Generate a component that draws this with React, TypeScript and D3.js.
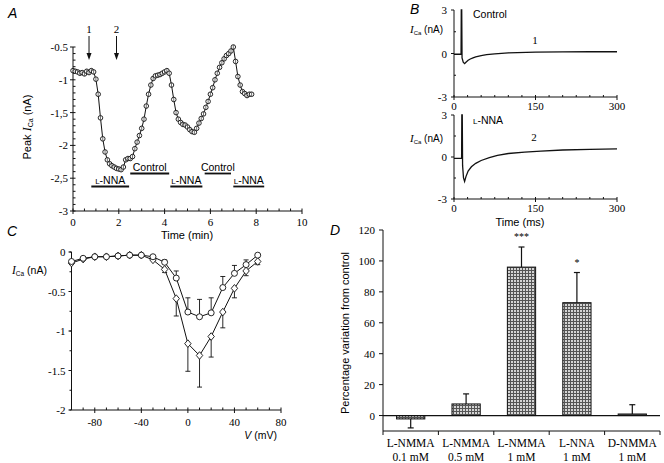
import React from "react";
import * as d3 from "d3";

// ---------- Panel A data ----------
const aTime = [0,0.1,0.2,0.3,0.4,0.5,0.6,0.7,0.8,0.9,1.0,1.1,1.2,1.3,1.4,1.5,1.6,1.7,1.8,1.9,2.0,2.1,2.2,2.3,2.4,2.5,2.6,2.7,2.8,2.9,3.0,3.1,3.2,3.3,3.4,3.5,3.6,3.7,3.8,3.9,4.0,4.1,4.2,4.3,4.4,4.5,4.6,4.7,4.8,4.9,5.0,5.1,5.2,5.3,5.4,5.5,5.6,5.7,5.8,5.9,6.0,6.1,6.2,6.3,6.4,6.5,6.6,6.7,6.8,6.9,7.0,7.1,7.2,7.3,7.4,7.5,7.6,7.7,7.8];
const aPeak = [-0.86,-0.87,-0.88,-0.9,-0.89,-0.91,-0.87,-0.89,-0.86,-0.88,-0.99,-1.22,-1.58,-1.9,-2.1,-2.22,-2.28,-2.31,-2.33,-2.35,-2.36,-2.37,-2.33,-2.22,-2.2,-2.2,-2.17,-2.05,-1.95,-1.85,-1.74,-1.6,-1.4,-1.22,-1.08,-0.98,-0.94,-0.93,-0.92,-0.9,-0.88,-0.86,-0.9,-1.08,-1.3,-1.5,-1.6,-1.65,-1.68,-1.69,-1.72,-1.76,-1.79,-1.8,-1.74,-1.66,-1.59,-1.52,-1.42,-1.33,-1.22,-1.12,-1.0,-0.9,-0.81,-0.74,-0.68,-0.63,-0.6,-0.56,-0.5,-0.72,-0.95,-1.08,-1.18,-1.21,-1.24,-1.22,-1.22];
const aYTicks = [-3,-2.5,-2,-1.5,-1,-0.5];
const aYTickLabels = ["-3","-2,5","-2","-1,5","-1","-0.5"];
const aXTicks = [0,2,4,6,8,10];
const aArrowTimes = [0.7,1.9];
const aArrowLabels = ["1","2"];
const aCondLabels = ["L-NNA","Control","L-NNA","Control","L-NNA"];
const aCondStart = [0.8,2.5,4.25,5.75,7.0];
const aCondEnd = [2.45,4.2,5.65,6.9,8.35];
const aCondLevel = [0,1,0,1,0];

// ---------- Panel B data ----------
const bCtrlT = [0,13,13.4,14.2,14.8,17,19.5,22,26,30,35,40,50,60,75,100,150,200,250,300];
const bCtrlI = [-0.05,-0.05,3,3,-0.3,-0.6,-0.7,-0.6,-0.47,-0.38,-0.3,-0.23,-0.15,-0.08,-0.02,0.05,0.1,0.11,0.12,0.12];
const bNnaT = [0,14,14.4,15.2,15.8,17.5,19.5,22,26,32,40,50,65,80,100,130,160,200,250,300];
const bNnaI = [-0.1,-0.1,3,3,-0.6,-1.5,-1.75,-1.4,-1.0,-0.7,-0.45,-0.25,-0.05,0.12,0.25,0.35,0.42,0.5,0.55,0.58];
const bYTicks = [-3,0,3];
const bXTicks = [0,150,300];

// ---------- Panel C data ----------
const cV = [-100,-90,-80,-70,-60,-50,-40,-30,-20,-10,0,10,20,30,40,50,60];
const cCircle = [-0.12,-0.08,-0.06,-0.06,-0.05,-0.04,-0.04,-0.06,-0.13,-0.33,-0.76,-0.82,-0.77,-0.45,-0.27,-0.16,-0.04];
const cCircleErrEnd = [null,null,null,null,null,null,null,null,-0.1,-0.24,-0.58,-0.6,-0.58,-0.31,-0.17,-0.1,null];
const cDiamond = [-0.14,-0.09,-0.06,-0.06,-0.05,-0.04,-0.04,-0.1,-0.22,-0.59,-1.16,-1.31,-1.07,-0.76,-0.46,-0.24,-0.12];
const cDiamondErrEnd = [null,null,null,null,null,null,null,null,-0.26,-0.81,-1.51,-1.71,-1.33,-0.96,-0.58,-0.3,-0.16];
const cYTicks = [-2,-1.5,-1,-0.5,0];
const cXTicks = [-80,-40,0,40,80];

// ---------- Panel D data ----------
const dCatLine1 = ["L-NMMA","L-NMMA","L-NMMA","L-NNA","D-NMMA"];
const dCatLine2 = ["0.1 mM","0.5 mM","1 mM","1 mM","1 mM"];
const dValues = [-2.2,7.5,96,73,1];
const dErrEnd = [-8,14,109,92.5,7];
const dStars = ["","","***","*",""];
const dYTicks = [0,20,40,60,80,100,120];

const SANS = "'Liberation Sans', Arial, Helvetica, sans-serif";
const SERIF = "'Liberation Serif', 'Times New Roman', serif";

export default function App() {
  // Panel A scales
  const xA = d3.scaleLinear().domain([0, 10]).range([73, 302]);
  const yA = d3.scaleLinear().domain([-3, -0.5]).range([211, 47]);
  const lineA = d3.line<number>().x((_, i) => xA(aTime[i])).y((d) => yA(d));
  const aMinorY = d3.range(-3, -0.45, 0.1);
  const aMinorX = d3.range(0, 10.01, 0.5);

  // Panel B scales
  const xB = d3.scaleLinear().domain([0, 300]).range([454, 617]);
  const yB1 = d3.scaleLinear().domain([-3, 3]).range([97, 10]);
  const yB2 = d3.scaleLinear().domain([-3, 3]).range([199, 115]);
  const lineB = (ts: number[], ys: number[], y: d3.ScaleLinear<number, number>) =>
    d3.line<number>().x((_, i) => xB(ts[i])).y((d) => y(Math.min(3, d)))(ys) || "";
  const bMinorX = d3.range(0, 301, 25);

  // Panel C scales
  const xC = d3.scaleLinear().domain([-100, 80]).range([71.5, 281]);
  const yC = d3.scaleLinear().domain([-2, 0]).range([410, 252]);
  const lineC = (ys: number[]) => d3.line<number>().x((_, i) => xC(cV[i])).y((d) => yC(d))(ys) || "";
  const cMinorX = d3.range(-100, 81, 10);
  const cMinorY = d3.range(-2, 0.01, 0.25);

  // Panel D scales
  const xD = d3.scaleBand<number>().domain(d3.range(5)).range([383, 660]).paddingInner(0.49).paddingOuter(0.245);
  const yD = d3.scaleLinear().domain([-10, 120]).range([431, 230]);
  const step = xD.step();

  const axisStyle = { stroke: "#111", strokeWidth: 1, fill: "none" } as const;

  const ICa = (fs: number) => (
    <>
      <tspan fontStyle="italic" fontFamily={SERIF} fontSize={fs + 1}>I</tspan>
      <tspan fontSize={fs - 4} dy={2}>Ca</tspan>
      <tspan dy={-2}> (nA)</tspan>
    </>
  );

  return (
    <div style={{ position: "absolute", left: 0, top: 0 }}>
      <svg width={664} height={463} style={{ display: "block", background: "#fff" }}>
        <defs>
          <pattern id="hatch" width={3} height={3} patternUnits="userSpaceOnUse">
            <rect width={3} height={3} fill="#d4d4d4" />
            <rect width={3} height={1} fill="#555" />
            <rect width={1} height={3} fill="#555" />
          </pattern>
        </defs>

        {/* ================= Panel A ================= */}
        <text x={8} y={18} fontFamily={SANS} fontStyle="italic" fontSize={14}>A</text>
        <line x1={xA(0)} x2={xA(0)} y1={yA(-0.5)} y2={yA(-3)} {...axisStyle} />
        <line x1={xA(0)} x2={xA(10)} y1={yA(-3)} y2={yA(-3)} {...axisStyle} />
        {aMinorY.map((v, i) => (
          <line key={"amy" + i} x1={xA(0)} x2={xA(0) + 2.5} y1={yA(v)} y2={yA(v)} {...axisStyle} />
        ))}
        {aYTicks.map((v, i) => (
          <g key={"ayt" + i}>
            <line x1={xA(0) - 3} x2={xA(0)} y1={yA(v)} y2={yA(v)} {...axisStyle} />
            <text x={xA(0) - 5} y={yA(v) + 4} textAnchor="end" fontFamily={SERIF} fontSize={11}>{aYTickLabels[i]}</text>
          </g>
        ))}
        {aMinorX.map((v, i) => (
          <line key={"amx" + i} x1={xA(v)} x2={xA(v)} y1={yA(-3)} y2={yA(-3) - 2.5} {...axisStyle} />
        ))}
        {aXTicks.map((v, i) => (
          <g key={"axt" + i}>
            <line x1={xA(v)} x2={xA(v)} y1={yA(-3)} y2={yA(-3) + 3} {...axisStyle} />
            <text x={xA(v)} y={yA(-3) + 15} textAnchor="middle" fontFamily={SERIF} fontSize={11}>{v}</text>
          </g>
        ))}
        <text x={187} y={239} textAnchor="middle" fontFamily={SANS} fontSize={11}>Time (min)</text>
        <text transform="translate(31,127) rotate(-90)" textAnchor="middle" fontFamily={SANS} fontSize={11}>
          Peak {ICa(11)}
        </text>
        <path d={lineA(aPeak) || ""} fill="none" stroke="#111" strokeWidth={1} />
        {aPeak.map((v, i) => (
          <g key={"apt" + i}>
            <circle cx={xA(aTime[i])} cy={yA(v)} r={2.3} fill="#fff" stroke="#111" strokeWidth={0.9} />
            <line x1={xA(aTime[i])} x2={xA(aTime[i])} y1={yA(v) - 2} y2={yA(v) + 2} stroke="#111" strokeWidth={0.6} />
          </g>
        ))}
        {aArrowTimes.map((t, i) => (
          <g key={"aar" + i}>
            <text x={xA(t)} y={33} textAnchor="middle" fontFamily={SERIF} fontSize={11}>{aArrowLabels[i]}</text>
            <line x1={xA(t)} x2={xA(t)} y1={36} y2={55} stroke="#111" strokeWidth={1} />
            <path d={`M${xA(t) - 2.5},${53} L${xA(t) + 2.5},${53} L${xA(t)},${60} Z`} fill="#111" />
          </g>
        ))}
        {aCondLabels.map((lab, i) => {
          const yy = aCondLevel[i] === 0 ? 186.5 : 173.5;
          const cx = (xA(aCondStart[i]) + xA(aCondEnd[i])) / 2;
          return (
            <g key={"acl" + i}>
              <line x1={xA(aCondStart[i])} x2={xA(aCondEnd[i])} y1={yy} y2={yy} stroke="#111" strokeWidth={1.8} />
              <text x={cx} y={yy - 2.5} textAnchor="middle" fontFamily={SANS} fontSize={10.5}>
                {lab.startsWith("L-") ? (<><tspan fontSize={8}>L</tspan>{lab.slice(1)}</>) : lab}
              </text>
            </g>
          );
        })}

        {/* ================= Panel B ================= */}
        <text x={410} y={14} fontFamily={SANS} fontStyle="italic" fontSize={14}>B</text>
        {[yB1, yB2].map((yS, k) => (
          <g key={"bax" + k}>
            <line x1={xB(0)} x2={xB(0)} y1={yS(3)} y2={yS(-3)} {...axisStyle} />
            <line x1={xB(0)} x2={xB(300)} y1={yS(-3)} y2={yS(-3)} {...axisStyle} />
            {bYTicks.map((v, i) => (
              <g key={"byt" + i}>
                <line x1={xB(0) - 3} x2={xB(0)} y1={yS(v)} y2={yS(v)} {...axisStyle} />
                <text x={xB(0) - 7} y={yS(v) + 4} textAnchor="end" fontFamily={SERIF} fontSize={11}>{v}</text>
              </g>
            ))}
            <line x1={xB(0)} x2={xB(0) + 2} y1={yS(1.5)} y2={yS(1.5)} {...axisStyle} />
            <line x1={xB(0)} x2={xB(0) + 2} y1={yS(-1.5)} y2={yS(-1.5)} {...axisStyle} />
            {bMinorX.map((v, i) => (
              <line key={"bmx" + i} x1={xB(v)} x2={xB(v)} y1={yS(-3)} y2={yS(-3) - 2} {...axisStyle} />
            ))}
            {bXTicks.map((v, i) => (
              <g key={"bxt" + i}>
                <line x1={xB(v)} x2={xB(v)} y1={yS(-3)} y2={yS(-3) + 3} {...axisStyle} />
                <text x={xB(v)} y={yS(-3) + 13} textAnchor="middle" fontFamily={SERIF} fontSize={11}>{v}</text>
              </g>
            ))}
          </g>
        ))}
        <path d={lineB(bCtrlT, bCtrlI, yB1)} fill="none" stroke="#111" strokeWidth={1.3} />
        <path d={lineB(bNnaT, bNnaI, yB2)} fill="none" stroke="#111" strokeWidth={1.3} />
        <text x={443} y={33} textAnchor="end" fontFamily={SANS} fontSize={10}>{ICa(10)}</text>
        <text x={443} y={142} textAnchor="end" fontFamily={SANS} fontSize={10}>{ICa(10)}</text>
        <text x={473} y={18} fontFamily={SANS} fontSize={10.5}>Control</text>
        <text x={473} y={124} fontFamily={SANS} fontSize={10.5}><tspan fontSize={8}>L</tspan>-NNA</text>
        <text x={535} y={44} textAnchor="middle" fontFamily={SERIF} fontSize={11}>1</text>
        <text x={534} y={141} textAnchor="middle" fontFamily={SERIF} fontSize={11}>2</text>
        <text x={520} y={226} textAnchor="middle" fontFamily={SANS} fontSize={11}>Time (ms)</text>

        {/* ================= Panel C ================= */}
        <text x={7} y={236} fontFamily={SANS} fontStyle="italic" fontSize={14}>C</text>
        <line x1={xC(-100)} x2={xC(-100)} y1={yC(0)} y2={yC(-2)} {...axisStyle} />
        <line x1={xC(-100)} x2={xC(80)} y1={yC(-2)} y2={yC(-2)} {...axisStyle} />
        {cMinorY.map((v, i) => (
          <line key={"cmy" + i} x1={xC(-100)} x2={xC(-100) - 2} y1={yC(v)} y2={yC(v)} {...axisStyle} />
        ))}
        {cYTicks.map((v, i) => (
          <g key={"cyt" + i}>
            <line x1={xC(-100) - 3} x2={xC(-100)} y1={yC(v)} y2={yC(v)} {...axisStyle} />
            <text x={xC(-100) - 6} y={yC(v) + 4} textAnchor="end" fontFamily={SERIF} fontSize={11}>{v}</text>
          </g>
        ))}
        {cMinorX.map((v, i) => (
          <line key={"cmx" + i} x1={xC(v)} x2={xC(v)} y1={yC(-2)} y2={yC(-2) - 2.5} {...axisStyle} />
        ))}
        {cXTicks.map((v, i) => (
          <g key={"cxt" + i}>
            <line x1={xC(v)} x2={xC(v)} y1={yC(-2)} y2={yC(-2) + 3} {...axisStyle} />
            <text x={xC(v)} y={yC(-2) + 16} textAnchor="middle" fontFamily={SERIF} fontSize={11}>{v}</text>
          </g>
        ))}
        <text x={12} y={274} fontFamily={SANS} fontSize={10.5}>{ICa(10.5)}</text>
        <text x={277} y={439} textAnchor="end" fontFamily={SANS} fontSize={10.5}><tspan fontStyle="italic">V</tspan> (mV)</text>
        {cV.map((v, i) => (
          <g key={"cer" + i}>
            {cCircleErrEnd[i] !== null && (
              <g>
                <line x1={xC(v)} x2={xC(v)} y1={yC(cCircle[i])} y2={yC(cCircleErrEnd[i] as number)} stroke="#111" strokeWidth={0.9} />
                <line x1={xC(v) - 2.5} x2={xC(v) + 2.5} y1={yC(cCircleErrEnd[i] as number)} y2={yC(cCircleErrEnd[i] as number)} stroke="#111" strokeWidth={0.9} />
              </g>
            )}
            {cDiamondErrEnd[i] !== null && (
              <g>
                <line x1={xC(v)} x2={xC(v)} y1={yC(cDiamond[i])} y2={yC(cDiamondErrEnd[i] as number)} stroke="#111" strokeWidth={0.9} />
                <line x1={xC(v) - 2.5} x2={xC(v) + 2.5} y1={yC(cDiamondErrEnd[i] as number)} y2={yC(cDiamondErrEnd[i] as number)} stroke="#111" strokeWidth={0.9} />
              </g>
            )}
          </g>
        ))}
        <path d={lineC(cCircle)} fill="none" stroke="#111" strokeWidth={1} />
        <path d={lineC(cDiamond)} fill="none" stroke="#111" strokeWidth={1} />
        {cV.map((v, i) => (
          <g key={"cpt" + i}>
            <path d={`M${xC(v)},${yC(cDiamond[i]) - 3.8} L${xC(v) + 3.2},${yC(cDiamond[i])} L${xC(v)},${yC(cDiamond[i]) + 3.8} L${xC(v) - 3.2},${yC(cDiamond[i])} Z`} fill="#fff" stroke="#111" strokeWidth={0.9} />
            <circle cx={xC(v)} cy={yC(cCircle[i])} r={3} fill="#fff" stroke="#111" strokeWidth={0.9} />
          </g>
        ))}

        {/* ================= Panel D ================= */}
        <text x={330} y={235} fontFamily={SANS} fontStyle="italic" fontSize={14}>D</text>
        <line x1={383} x2={383} y1={yD(120)} y2={yD(-10)} {...axisStyle} />
        <line x1={383} x2={660} y1={yD(-10)} y2={yD(-10)} {...axisStyle} />
        {dYTicks.map((v, i) => (
          <g key={"dyt" + i}>
            <line x1={379} x2={383} y1={yD(v)} y2={yD(v)} {...axisStyle} />
            <text x={375} y={yD(v) + 4} textAnchor="end" fontFamily={SERIF} fontSize={11}>{v}</text>
          </g>
        ))}
        {d3.range(6).map((k) => (
          <line key={"dxt" + k} x1={383 + k * step} x2={383 + k * step} y1={yD(-10)} y2={yD(-10) + 4} {...axisStyle} />
        ))}
        <text transform="translate(349,333) rotate(-90)" textAnchor="middle" fontFamily={SANS} fontSize={11}>Percentage variation from control</text>
        {dValues.map((v, i) => {
          const x0 = xD(i) as number;
          const bw = xD.bandwidth();
          const top = yD(Math.max(0, v));
          const bot = yD(Math.min(0, v));
          return (
            <g key={"dbar" + i}>
              <line x1={x0 + bw / 2} x2={x0 + bw / 2} y1={yD(v)} y2={yD(dErrEnd[i])} stroke="#111" strokeWidth={1.2} />
              <line x1={x0 + bw / 2 - 3} x2={x0 + bw / 2 + 3} y1={yD(dErrEnd[i])} y2={yD(dErrEnd[i])} stroke="#111" strokeWidth={1.2} />
              <rect x={x0} y={top} width={bw} height={Math.max(1, bot - top)} fill="url(#hatch)" stroke="#111" strokeWidth={1} />
              {dStars[i] && (
                <text x={x0 + bw / 2} y={yD(dErrEnd[i]) - 7} textAnchor="middle" fontFamily={SERIF} fontSize={10}>{dStars[i]}</text>
              )}
              <text x={x0 + bw / 2} y={447} textAnchor="middle" fontFamily={SERIF} fontSize={11.5}>{dCatLine1[i]}</text>
              <text x={x0 + bw / 2} y={461} textAnchor="middle" fontFamily={SERIF} fontSize={11.5}>{dCatLine2[i]}</text>
            </g>
          );
        })}
        <line x1={383} x2={660} y1={yD(0)} y2={yD(0)} stroke="#111" strokeWidth={1.3} />
      </svg>
    </div>
  );
}
